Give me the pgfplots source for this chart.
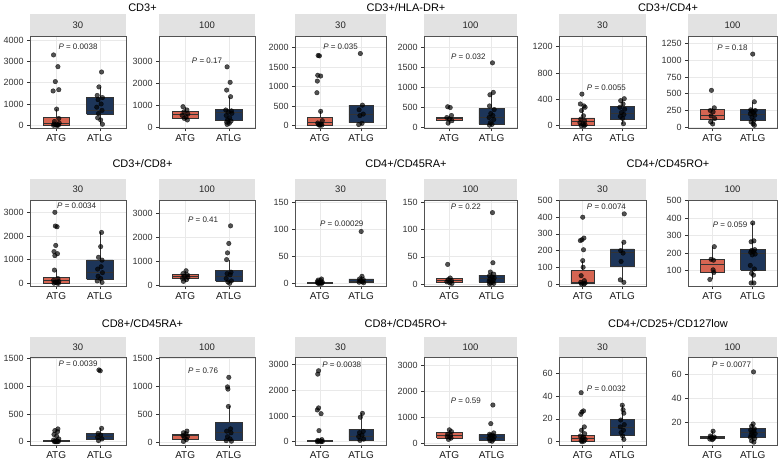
\documentclass[border=0pt]{standalone}
\usepackage{fontspec}
\setmainfont{Liberation Sans}
\usepackage{pgfplots}
\pgfplotsset{compat=1.18}
\definecolor{atgc}{RGB}{214,101,82}
\definecolor{atlgc}{RGB}{29,53,89}
\definecolor{bord}{RGB}{51,51,51}
\definecolor{stripc}{RGB}{226,226,226}
\definecolor{gridc}{RGB}{233,233,233}
\tikzset{plab/.style={font=\fontsize{8}{9}\selectfont, text=black!85, inner sep=0pt}}
\pgfplotsset{
 pan/.style={
   scale only axis, anchor=north west,
   xmin=0.4, xmax=2.6, xtick={1,2}, xticklabels={ATG,ATLG},
   tick pos=left, tick align=outside, major tick length=2.8pt,
   axis line style={bord!85, line width=0.5pt},
   tick style={bord, line width=0.5pt},
   xmajorgrids=true, ymajorgrids=true, grid style={gridc, line width=0.6pt},
   yticklabel style={font=\fontsize{9}{10}\selectfont, text=black!80},
   xticklabel style={font=\fontsize{10}{11}\selectfont, text=black!90},
   /pgf/number format/assume math mode=true,
   /pgf/number format/1000 sep={},
   scaled ticks=false,
 },
 pts/.style={only marks, mark=*, mark size=2.3pt, mark options={draw=none, fill=black}, opacity=0.68},
 bxa/.style={fill=atgc, draw=bord, line width=0.5pt, no marks},
 bxb/.style={fill=atlgc, draw=bord, line width=0.5pt, no marks},
 wk/.style={draw=bord, line width=0.5pt, no marks},
 md/.style={draw=bord, line width=1pt, no marks},
}
\newcommand{\strip}[4]{\fill[stripc] (#1pt,-#3pt) rectangle (#2pt,-#4pt);}
\begin{document}
\begin{tikzpicture}
\useasboundingbox (0,0) rectangle (780pt,-463pt);
% ---------- Row 1 ----------
% CD3+ 30
\begin{axis}[pan, at={(30pt,-36pt)}, width=96pt, height=92.5pt, ymin=-150, ymax=4188, ytick={0,1000,2000,3000,4000}]
\addplot[wk] coordinates {(1,0)(1,10)};
\addplot[wk] coordinates {(1,370)(1,760)};
\addplot[bxa] coordinates {(0.7,10)(1.3,10)(1.3,370)(0.7,370)(0.7,10)};
\addplot[md] coordinates {(0.7,90)(1.3,90)};
\addplot[wk] coordinates {(2,50)(2,510)};
\addplot[wk] coordinates {(2,1300)(2,1800)};
\addplot[bxb] coordinates {(1.7,510)(2.3,510)(2.3,1300)(1.7,1300)(1.7,510)};
\addplot[md] coordinates {(1.7,700)(2.3,700)};
\addplot[pts] coordinates {(0.94,3300)(1.04,2750)(0.98,2050)(1.06,1670)(0.93,1610)(1.01,760)(1.06,320)(0.96,180)(1.07,100)(0.95,60)(1.03,30)(0.99,15)(1.05,5)(0.94,0)(1.02,0)};
\addplot[pts] coordinates {(2.04,2500)(1.98,1800)(1.94,1400)(2.06,1300)(1.96,1200)(2.03,1000)(1.93,850)(2.05,700)(1.97,550)(1.95,350)(2.02,250)(2.06,50)};
\node[plab] at (axis cs:1.5,3690) {\textit{P} = 0.0038};
\end{axis}
% CD3+ 100
\begin{axis}[pan, at={(159pt,-36pt)}, width=96pt, height=92.5pt, ymin=-36, ymax=4143, ytick={0,1000,2000,3000}]
\addplot[wk] coordinates {(1,350)(1,420)};
\addplot[wk] coordinates {(1,750)(1,950)};
\addplot[bxa] coordinates {(0.7,420)(1.3,420)(1.3,750)(0.7,750)(0.7,420)};
\addplot[md] coordinates {(0.7,600)(1.3,600)};
\addplot[wk] coordinates {(2,150)(2,320)};
\addplot[wk] coordinates {(2,840)(2,1400)};
\addplot[bxb] coordinates {(1.7,320)(2.3,320)(2.3,840)(1.7,840)(1.7,320)};
\addplot[md] coordinates {(1.7,700)(2.3,700)};
\addplot[pts] coordinates {(0.95,950)(1.04,800)(0.97,720)(1.06,620)(0.93,560)(1.02,480)(0.98,420)(1.05,350)};
\addplot[pts] coordinates {(1.96,2750)(2.03,2050)(1.95,1700)(2.04,1400)(1.93,800)(2.06,760)(1.99,700)(2.07,650)(1.94,550)(2.02,450)(1.97,350)(2.05,300)(1.95,250)(2.01,200)(1.96,150)};
\node[plab] at (axis cs:1.5,3015) {\textit{P} = 0.17};
\end{axis}
% CD3+/HLA-DR+ 30
\begin{axis}[pan, at={(295pt,-36pt)}, width=91pt, height=92.5pt, ymin=-82, ymax=2302, ytick={0,500,1000,1500,2000}]
\addplot[wk] coordinates {(1,0)(1,10)};
\addplot[wk] coordinates {(1,200)(1,360)};
\addplot[bxa] coordinates {(0.7,10)(1.3,10)(1.3,200)(0.7,200)(0.7,10)};
\addplot[md] coordinates {(0.7,60)(1.3,60)};
\addplot[wk] coordinates {(2,20)(2,70)};
\addplot[bxb] coordinates {(1.7,70)(2.3,70)(2.3,520)(1.7,520)(1.7,70)};
\addplot[md] coordinates {(1.7,290)(2.3,290)};
\addplot[pts] coordinates {(0.96,1800)(0.99,1790)(0.95,1290)(1.02,1270)(0.94,1140)(0.93,840)(1.02,360)(1.06,120)(0.95,60)(1.03,30)(0.97,15)(1.05,5)(1.0,0)};
\addplot[pts] coordinates {(1.98,1850)(2.03,520)(1.95,400)(2.05,290)(1.97,250)(2.02,50)(1.94,20)};
\node[plab] at (axis cs:1.5,2026) {\textit{P} = 0.035};
\end{axis}
% CD3+/HLA-DR+ 100
\begin{axis}[pan, at={(424pt,-36pt)}, width=93pt, height=92.5pt, ymin=-25, ymax=2293, ytick={0,500,1000,1500,2000}]
\addplot[wk] coordinates {(1,100)(1,175)};
\addplot[wk] coordinates {(1,260)(1,300)};
\addplot[bxa] coordinates {(0.7,175)(1.3,175)(1.3,260)(0.7,260)(0.7,175)};
\addplot[md] coordinates {(0.7,230)(1.3,230)};
\addplot[wk] coordinates {(2,60)(2,90)};
\addplot[wk] coordinates {(2,480)(2,880)};
\addplot[bxb] coordinates {(1.7,90)(2.3,90)(2.3,480)(1.7,480)(1.7,90)};
\addplot[md] coordinates {(1.7,250)(2.3,250)};
\addplot[pts] coordinates {(0.96,520)(1.02,500)(1.05,300)(0.94,250)(1.0,210)(1.06,170)(0.97,110)};
\addplot[pts] coordinates {(2.02,1620)(2.04,880)(1.96,820)(1.95,540)(2.06,450)(1.98,350)(2.03,300)(1.94,250)(2.05,200)(1.97,120)(2.01,80)(1.95,60)};
\node[plab] at (axis cs:1.45,1775) {\textit{P} = 0.032};
\end{axis}
% CD3+/CD4+ 30
\begin{axis}[pan, at={(559pt,-36pt)}, width=87pt, height=92.5pt, ymin=-43, ymax=1363, ytick={0,400,800,1200}]
\addplot[wk] coordinates {(1,0)(1,5)};
\addplot[wk] coordinates {(1,120)(1,280)};
\addplot[bxa] coordinates {(0.7,5)(1.3,5)(1.3,120)(0.7,120)(0.7,5)};
\addplot[md] coordinates {(0.7,60)(1.3,60)};
\addplot[wk] coordinates {(2,25)(2,100)};
\addplot[wk] coordinates {(2,290)(2,410)};
\addplot[bxb] coordinates {(1.7,100)(2.3,100)(2.3,290)(1.7,290)(1.7,100)};
\addplot[md] coordinates {(1.7,185)(2.3,185)};
\addplot[pts] coordinates {(0.98,480)(0.94,330)(1.03,300)(1.06,280)(0.97,230)(1.02,150)(0.95,100)(1.05,70)(0.93,45)(1.01,25)(1.06,10)(0.96,0)(1.03,0)};
\addplot[pts] coordinates {(2.05,410)(1.96,380)(2.02,330)(1.94,280)(2.06,250)(1.98,200)(2.04,170)(1.95,140)(2.01,110)(2.03,30)};
\node[plab] at (axis cs:1.6,582) {\textit{P} = 0.0055};
\end{axis}
% CD3+/CD4+ 100
\begin{axis}[pan, at={(688pt,-36pt)}, width=89pt, height=92.5pt, ymin=-18, ymax=1359, ytick={0,250,500,750,1000,1250}]
\addplot[wk] coordinates {(1,50)(1,125)};
\addplot[wk] coordinates {(1,270)(1,290)};
\addplot[bxa] coordinates {(0.7,125)(1.3,125)(1.3,270)(0.7,270)(0.7,125)};
\addplot[md] coordinates {(0.7,170)(1.3,170)};
\addplot[wk] coordinates {(2,30)(2,100)};
\addplot[wk] coordinates {(2,270)(2,380)};
\addplot[bxb] coordinates {(1.7,100)(2.3,100)(2.3,270)(1.7,270)(1.7,100)};
\addplot[md] coordinates {(1.7,185)(2.3,185)};
\addplot[pts] coordinates {(0.98,550)(1.05,290)(0.95,250)(1.02,230)(0.97,170)(1.06,130)(0.96,80)(1.01,50)};
\addplot[pts] coordinates {(2.0,1090)(2.04,380)(1.95,260)(2.06,250)(1.97,240)(2.02,220)(1.94,200)(2.05,180)(1.98,150)(2.03,100)(1.96,80)(2.01,50)(2.04,30)};
\node[plab] at (axis cs:1.5,1190) {\textit{P} = 0.18};
\end{axis}
% ---------- Row 2 ----------
% CD3+/CD8+ 30
\begin{axis}[pan, at={(30pt,-200pt)}, width=96pt, height=86.5pt, ymin=-135, ymax=3520, ytick={0,1000,2000,3000}]
\addplot[wk] coordinates {(1,240)(1,560)};
\addplot[bxa] coordinates {(0.7,0)(1.3,0)(1.3,240)(0.7,240)(0.7,0)};
\addplot[md] coordinates {(0.7,110)(1.3,110)};
\addplot[wk] coordinates {(2,30)(2,170)};
\addplot[wk] coordinates {(2,990)(2,2150)};
\addplot[bxb] coordinates {(1.7,170)(2.3,170)(2.3,990)(1.7,990)(1.7,170)};
\addplot[md] coordinates {(1.7,450)(2.3,450)};
\addplot[pts] coordinates {(0.97,3000)(0.98,2420)(1.02,2390)(0.99,1600)(0.95,1340)(1.03,1250)(0.97,1170)(0.96,560)(1.04,200)(0.94,130)(1.06,80)(0.98,40)(1.02,15)(0.95,5)(1.05,0)};
\addplot[pts] coordinates {(2.04,2150)(2.02,1550)(1.97,1100)(2.05,980)(2.03,700)(1.95,600)(2.06,450)(1.96,300)(2.02,200)(1.94,100)(2.05,40)};
\node[plab] at (axis cs:1.47,3282) {\textit{P} = 0.0034};
\end{axis}
% CD3+/CD8+ 100
\begin{axis}[pan, at={(159pt,-200pt)}, width=96pt, height=86.5pt, ymin=-33, ymax=3551, ytick={0,1000,2000,3000}]
\addplot[wk] coordinates {(1,170)(1,290)};
\addplot[wk] coordinates {(1,480)(1,620)};
\addplot[bxa] coordinates {(0.7,290)(1.3,290)(1.3,480)(0.7,480)(0.7,290)};
\addplot[md] coordinates {(0.7,370)(1.3,370)};
\addplot[wk] coordinates {(2,100)(2,190)};
\addplot[wk] coordinates {(2,620)(2,1080)};
\addplot[bxb] coordinates {(1.7,190)(2.3,190)(2.3,620)(1.7,620)(1.7,190)};
\addplot[md] coordinates {(1.7,400)(2.3,400)};
\addplot[pts] coordinates {(1.02,620)(0.95,500)(1.05,450)(0.98,400)(1.06,350)(0.94,300)(1.03,250)(0.96,180)};
\addplot[pts] coordinates {(2.04,2480)(2.0,1750)(1.97,1360)(1.95,1080)(2.05,560)(1.96,500)(2.03,450)(1.94,300)(2.06,200)(1.98,150)(2.02,100)};
\node[plab] at (axis cs:1.41,2724) {\textit{P} = 0.41};
\end{axis}
% CD4+/CD45RA+ 30
\begin{axis}[pan, at={(295pt,-200pt)}, width=91pt, height=86.5pt, ymin=-5.9, ymax=154.3, ytick={0,50,100,150}]
\addplot[wk] coordinates {(1,2)(1,5)};
\addplot[bxa] coordinates {(0.7,0)(1.3,0)(1.3,2)(0.7,2)(0.7,0)};
\addplot[md] coordinates {(0.7,1)(1.3,1)};
\addplot[wk] coordinates {(2,1)(2,1.5)};
\addplot[wk] coordinates {(2,8)(2,13)};
\addplot[bxb] coordinates {(1.7,1.5)(2.3,1.5)(2.3,8)(1.7,8)(1.7,1.5)};
\addplot[md] coordinates {(1.7,4)(2.3,4)};
\addplot[pts] coordinates {(1.04,8)(0.96,6)(1.02,5)(0.94,3)(1.06,2)(0.98,1.5)(1.03,1)(0.95,0.5)(1.0,0)(1.05,0)(0.97,0)};
\addplot[pts] coordinates {(2.0,96)(2.02,13)(1.96,8)(2.05,7)(1.98,5)(2.03,3)(1.95,2)(2.06,1)};
\node[plab] at (axis cs:1.53,110) {\textit{P} = 0.00029};
\end{axis}
% CD4+/CD45RA+ 100
\begin{axis}[pan, at={(424pt,-200pt)}, width=93pt, height=86.5pt, ymin=-4.6, ymax=154.2, ytick={0,50,100,150}]
\addplot[wk] coordinates {(1,1)(1,2.5)};
\addplot[wk] coordinates {(1,10.5)(1,11)};
\addplot[bxa] coordinates {(0.7,2.5)(1.3,2.5)(1.3,10.5)(0.7,10.5)(0.7,2.5)};
\addplot[md] coordinates {(0.7,7)(1.3,7)};
\addplot[wk] coordinates {(2,0)(2,3.5)};
\addplot[wk] coordinates {(2,16.5)(2,22)};
\addplot[bxb] coordinates {(1.7,3.5)(2.3,3.5)(2.3,16.5)(1.7,16.5)(1.7,3.5)};
\addplot[md] coordinates {(1.7,10.5)(2.3,10.5)};
\addplot[pts] coordinates {(0.96,36)(1.02,11)(0.97,8)(1.05,6)(0.94,4)(1.01,2)(1.06,1)};
\addplot[pts] coordinates {(2.02,131)(2.03,39)(1.97,22)(2.05,18)(1.95,15)(2.01,13)(2.06,11)(1.96,9)(2.04,7)(1.94,5)(2.02,3)(1.98,2)(2.05,1)(1.95,0)};
\node[plab] at (axis cs:1.39,141) {\textit{P} = 0.22};
\end{axis}
% CD4+/CD45RO+ 30
\begin{axis}[pan, at={(559pt,-200pt)}, width=87pt, height=86.5pt, ymin=-15, ymax=503, ytick={0,100,200,300,400,500}]
\addplot[wk] coordinates {(1,0)(1,2)};
\addplot[wk] coordinates {(1,80)(1,140)};
\addplot[bxa] coordinates {(0.7,2)(1.3,2)(1.3,80)(0.7,80)(0.7,2)};
\addplot[md] coordinates {(0.7,8)(1.3,8)};
\addplot[wk] coordinates {(2,10)(2,105)};
\addplot[wk] coordinates {(2,210)(2,250)};
\addplot[bxb] coordinates {(1.7,105)(2.3,105)(2.3,210)(1.7,210)(1.7,105)};
\addplot[md] coordinates {(1.7,190)(2.3,190)};
\addplot[pts] coordinates {(1.0,400)(1.03,275)(0.98,265)(0.94,260)(1.02,205)(1.0,140)(1.01,100)(0.96,50)(1.04,20)(0.95,10)(1.06,5)(0.97,0)(1.03,0)};
\addplot[pts] coordinates {(2.05,420)(2.04,250)(1.96,200)(2.02,185)(1.97,135)(1.95,25)(2.04,10)};
\node[plab] at (axis cs:1.6,465) {\textit{P} = 0.0074};
\end{axis}
% CD4+/CD45RO+ 100
\begin{axis}[pan, at={(688pt,-200pt)}, width=89pt, height=86.5pt, ymin=10, ymax=503, ytick={100,200,300,400,500}]
\addplot[wk] coordinates {(1,50)(1,92)};
\addplot[wk] coordinates {(1,165)(1,237)};
\addplot[bxa] coordinates {(0.7,92)(1.3,92)(1.3,165)(0.7,165)(0.7,92)};
\addplot[md] coordinates {(0.7,135)(1.3,135)};
\addplot[wk] coordinates {(2,30)(2,104)};
\addplot[wk] coordinates {(2,221)(2,372)};
\addplot[bxb] coordinates {(1.7,104)(2.3,104)(2.3,221)(1.7,221)(1.7,104)};
\addplot[md] coordinates {(1.7,198)(2.3,198)};
\addplot[pts] coordinates {(1.05,237)(0.97,165)(1.03,160)(1.02,105)(1.04,90)(0.94,50)};
\addplot[pts] coordinates {(2.0,372)(2.03,270)(1.96,265)(2.05,220)(1.97,215)(2.02,210)(1.95,205)(2.06,195)(1.99,190)(1.94,130)(2.04,110)(1.97,85)(2.02,75)(1.96,30)(2.03,30)};
\node[plab] at (axis cs:1.44,364) {\textit{P} = 0.059};
\end{axis}
% ---------- Row 3 ----------
% CD8+/CD45RA+ 30
\begin{axis}[pan, at={(30pt,-357pt)}, width=96pt, height=88pt, ymin=-59, ymax=1523, ytick={0,500,1000,1500}]
\addplot[wk] coordinates {(1,30)(1,72)};
\addplot[bxa] coordinates {(0.7,0)(1.3,0)(1.3,30)(0.7,30)(0.7,0)};
\addplot[md] coordinates {(0.7,10)(1.3,10)};
\addplot[wk] coordinates {(2,20)(2,36)};
\addplot[wk] coordinates {(2,150)(2,240)};
\addplot[bxb] coordinates {(1.7,36)(2.3,36)(2.3,150)(1.7,150)(1.7,36)};
\addplot[md] coordinates {(1.7,90)(2.3,90)};
\addplot[pts] coordinates {(1.04,230)(0.97,200)(1.03,180)(0.95,130)(1.01,100)(1.06,50)(0.94,30)(1.02,20)(0.98,10)(1.05,5)(0.96,0)(1.03,0)(0.99,0)};
\addplot[pts] coordinates {(1.98,1290)(2.01,1275)(2.04,240)(1.96,150)(2.02,120)(1.95,80)(2.05,50)(1.97,20)};
\node[plab] at (axis cs:1.5,1404) {\textit{P} = 0.0039};
\end{axis}
% CD8+/CD45RA+ 100
\begin{axis}[pan, at={(159pt,-357pt)}, width=96pt, height=88pt, ymin=-48, ymax=1523, ytick={0,500,1000,1500}]
\addplot[wk] coordinates {(1,12)(1,48)};
\addplot[wk] coordinates {(1,143)(1,202)};
\addplot[bxa] coordinates {(0.7,48)(1.3,48)(1.3,143)(0.7,143)(0.7,48)};
\addplot[md] coordinates {(0.7,119)(1.3,119)};
\addplot[wk] coordinates {(2,20)(2,42)};
\addplot[wk] coordinates {(2,351)(2,640)};
\addplot[bxb] coordinates {(1.7,42)(2.3,42)(2.3,351)(1.7,351)(1.7,42)};
\addplot[md] coordinates {(1.7,173)(2.3,173)};
\addplot[pts] coordinates {(1.04,200)(0.96,170)(1.02,150)(0.95,120)(1.05,100)(0.98,80)(1.03,50)(0.96,15)};
\addplot[pts] coordinates {(2.0,1160)(1.97,990)(1.98,950)(1.99,640)(2.04,240)(1.95,200)(2.05,170)(1.97,100)(2.03,60)(1.94,30)(2.06,20)};
\node[plab] at (axis cs:1.41,1274) {\textit{P} = 0.76};
\end{axis}
% CD8+/CD45RO+ 30
\begin{axis}[pan, at={(295pt,-357pt)}, width=91pt, height=88pt, ymin=-128, ymax=3283, ytick={0,1000,2000,3000}]
\addplot[wk] coordinates {(1,65)(1,130)};
\addplot[bxa] coordinates {(0.7,0)(1.3,0)(1.3,65)(0.7,65)(0.7,0)};
\addplot[md] coordinates {(0.7,25)(1.3,25)};
\addplot[wk] coordinates {(2,25)(2,52)};
\addplot[wk] coordinates {(2,490)(2,1100)};
\addplot[bxb] coordinates {(1.7,52)(2.3,52)(2.3,490)(1.7,490)(1.7,52)};
\addplot[md] coordinates {(1.7,220)(2.3,220)};
\addplot[pts] coordinates {(0.97,2750)(0.95,2620)(0.97,1310)(0.94,1230)(1.03,1085)(0.98,430)(1.05,80)(0.95,50)(1.02,30)(0.97,20)(1.06,10)(0.94,0)(1.03,0)};
\addplot[pts] coordinates {(2.03,1100)(1.98,950)(2.05,400)(1.96,350)(2.02,250)(1.94,200)(2.06,100)(1.97,50)};
\node[plab] at (axis cs:1.53,2974) {\textit{P} = 0.0038};
\end{axis}
% CD8+/CD45RO+ 100
\begin{axis}[pan, at={(424pt,-357pt)}, width=93pt, height=88pt, ymin=-66, ymax=3336, ytick={0,1000,2000,3000}]
\addplot[wk] coordinates {(1,130)(1,195)};
\addplot[wk] coordinates {(1,425)(1,520)};
\addplot[bxa] coordinates {(0.7,195)(1.3,195)(1.3,425)(0.7,425)(0.7,195)};
\addplot[md] coordinates {(0.7,283)(1.3,283)};
\addplot[wk] coordinates {(2,80)(2,130)};
\addplot[wk] coordinates {(2,348)(2,400)};
\addplot[bxb] coordinates {(1.7,130)(2.3,130)(2.3,348)(1.7,348)(1.7,130)};
\addplot[md] coordinates {(1.7,232)(2.3,232)};
\addplot[pts] coordinates {(1.0,520)(1.05,450)(0.96,350)(1.03,300)(0.95,250)(1.04,200)(0.98,150)};
\addplot[pts] coordinates {(2.03,1480)(1.98,760)(2.05,400)(1.95,350)(2.02,320)(1.97,300)(2.06,250)(1.94,200)(2.04,150)(1.96,100)(2.01,80)};
\node[plab] at (axis cs:1.39,1648) {\textit{P} = 0.59};
\end{axis}
% CD4+/CD25+/CD127low 30
\begin{axis}[pan, at={(559pt,-357pt)}, width=87pt, height=88pt, ymin=-2.9, ymax=74.3, ytick={0,20,40,60}]
\addplot[wk] coordinates {(1,5.5)(1,13)};
\addplot[bxa] coordinates {(0.7,0)(1.3,0)(1.3,5.5)(0.7,5.5)(0.7,0)};
\addplot[md] coordinates {(0.7,3)(1.3,3)};
\addplot[wk] coordinates {(2,1.5)(2,6)};
\addplot[wk] coordinates {(2,19.8)(2,32)};
\addplot[bxb] coordinates {(1.7,6)(2.3,6)(2.3,19.8)(1.7,19.8)(1.7,6)};
\addplot[md] coordinates {(1.7,12.5)(2.3,12.5)};
\addplot[pts] coordinates {(0.96,43)(1.02,27)(0.98,26)(0.95,24)(1.04,13)(0.97,10)(1.05,7)(0.94,5)(1.02,4)(0.99,3)(1.06,2)(0.96,1)(1.03,0.5)(0.98,0)};
\addplot[pts] coordinates {(2.0,32)(2.02,28)(2.04,25)(1.96,19)(2.05,15)(1.95,13)(2.03,10)(1.97,8)(2.01,5)(2.04,2)};
\node[plab] at (axis cs:1.6,46.8) {\textit{P} = 0.0032};
\end{axis}
% CD4+/CD25+/CD127low 100
\begin{axis}[pan, at={(688pt,-357pt)}, width=89pt, height=88pt, ymin=1.6, ymax=74.3, ytick={20,40,60}]
\addplot[wk] coordinates {(1,6)(1,7)};
\addplot[wk] coordinates {(1,9)(1,13)};
\addplot[bxa] coordinates {(0.7,7)(1.3,7)(1.3,9)(0.7,9)(0.7,7)};
\addplot[md] coordinates {(0.7,8)(1.3,8)};
\addplot[wk] coordinates {(2,3.7)(2,7.6)};
\addplot[wk] coordinates {(2,15.3)(2,19)};
\addplot[bxb] coordinates {(1.7,7.6)(2.3,7.6)(2.3,15.3)(1.7,15.3)(1.7,7.6)};
\addplot[md] coordinates {(1.7,11.7)(2.3,11.7)};
\addplot[pts] coordinates {(1.02,13)(0.95,9)(1.05,8.2)(0.97,7.8)(1.03,7)(0.94,6.5)(1.0,6)};
\addplot[pts] coordinates {(2.02,62)(2.01,19)(1.97,17)(2.04,15)(1.95,14)(2.03,13)(1.98,12)(2.06,11)(1.96,10)(2.02,9)(1.94,8)(2.05,7)(1.97,5)(2.03,4)};
\node[plab] at (axis cs:1.48,67.7) {\textit{P} = 0.0077};
\end{axis}
% ---------- strips ----------
\strip{30}{126}{14}{36}\strip{159}{255}{14}{36}\strip{295}{386}{14}{36}\strip{424}{517}{14}{36}\strip{559}{646}{14}{36}\strip{688}{777}{14}{36}
\strip{30}{126}{179}{200}\strip{159}{255}{179}{200}\strip{295}{386}{179}{200}\strip{424}{517}{179}{200}\strip{559}{646}{179}{200}\strip{688}{777}{179}{200}
\strip{30}{126}{337}{357}\strip{159}{255}{337}{357}\strip{295}{386}{337}{357}\strip{424}{517}{337}{357}\strip{559}{646}{337}{357}\strip{688}{777}{337}{357}
\begin{scope}[every node/.style={font=\fontsize{9.5}{10}\selectfont, text=black!85}]
\foreach \y in {25,189.5,347}{
  \node at (78pt,-\y pt) {30}; \node at (207pt,-\y pt) {100};
  \node at (340.5pt,-\y pt) {30}; \node at (470.5pt,-\y pt) {100};
  \node at (602.5pt,-\y pt) {30}; \node at (732.5pt,-\y pt) {100};
}
\end{scope}
\begin{scope}[every node/.style={font=\fontsize{11}{12}\selectfont, text=black}]
\node at (142.5pt,-8pt) {CD3+};
\node at (406pt,-8pt) {CD3+/HLA-DR+};
\node at (668pt,-8pt) {CD3+/CD4+};
\node at (142.5pt,-164pt) {CD3+/CD8+};
\node at (406pt,-164pt) {CD4+/CD45RA+};
\node at (668pt,-164pt) {CD4+/CD45RO+};
\node at (142.5pt,-323.5pt) {CD8+/CD45RA+};
\node at (406pt,-323.5pt) {CD8+/CD45RO+};
\node at (668pt,-323.5pt) {CD4+/CD25+/CD127low};
\end{scope}
\end{tikzpicture}
\end{document}
